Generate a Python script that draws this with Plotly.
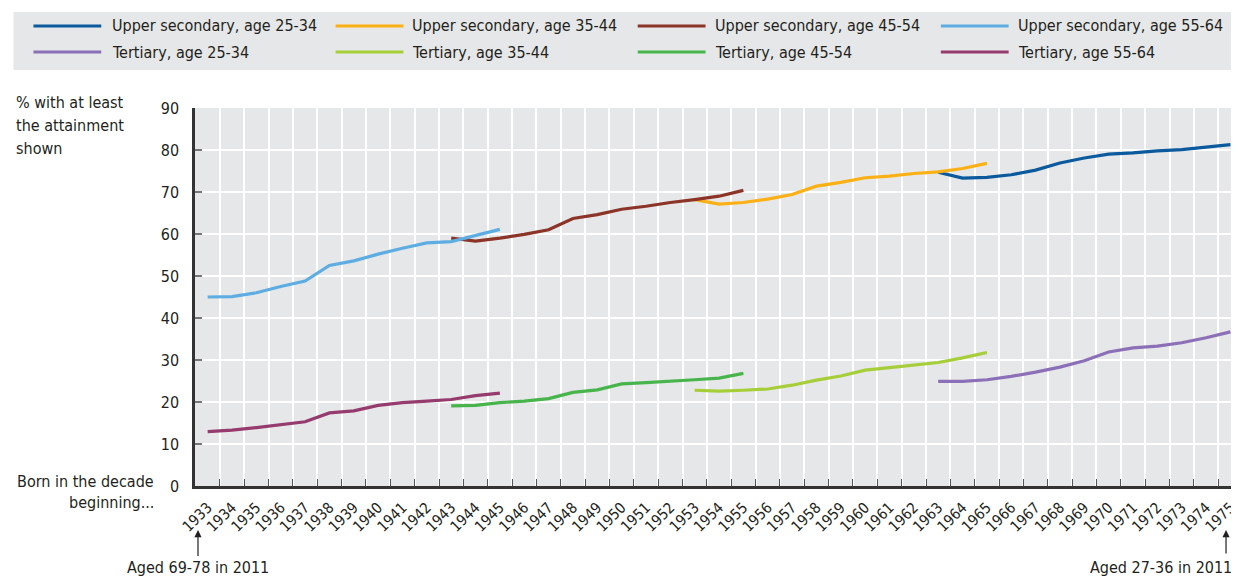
import plotly.graph_objects as go

# ---------------- data ----------------
years = [str(y) for y in range(1933, 1976)]

years_55_64 = [str(y) for y in range(1933, 1946)]
years_45_54 = [str(y) for y in range(1943, 1956)]
years_35_44 = [str(y) for y in range(1953, 1966)]
years_25_34 = [str(y) for y in range(1963, 1976)]

upper_sec_25_34 = [74.7, 73.3, 73.5, 74.1, 75.2, 76.9, 78.1, 79.0, 79.3, 79.8, 80.1, 80.7, 81.3]
upper_sec_35_44 = [68.2, 67.1, 67.5, 68.3, 69.4, 71.4, 72.3, 73.4, 73.8, 74.4, 74.8, 75.6, 76.8]
upper_sec_45_54 = [59.0, 58.3, 59.0, 59.9, 61.0, 63.7, 64.6, 65.9, 66.6, 67.5, 68.2, 69.0, 70.4]
upper_sec_55_64 = [45.0, 45.1, 46.0, 47.5, 48.8, 52.5, 53.6, 55.2, 56.6, 57.9, 58.2, 59.7, 61.1]
tertiary_25_34 = [24.9, 24.9, 25.3, 26.1, 27.1, 28.3, 29.8, 31.9, 32.9, 33.3, 34.1, 35.3, 36.7]
tertiary_35_44 = [22.8, 22.6, 22.8, 23.1, 24.0, 25.2, 26.2, 27.6, 28.2, 28.8, 29.4, 30.5, 31.8]
tertiary_45_54 = [19.1, 19.2, 19.85, 20.2, 20.8, 22.3, 22.9, 24.3, 24.6, 24.9, 25.3, 25.7, 26.8]
tertiary_55_64 = [12.95, 13.3, 13.9, 14.6, 15.3, 17.4, 17.9, 19.2, 19.85, 20.2, 20.6, 21.5, 22.1]

y_ticks = [0, 10, 20, 30, 40, 50, 60, 70, 80, 90]

series = [
    ("Upper secondary, age 25-34", years_25_34, upper_sec_25_34, "#0b5a9e"),
    ("Upper secondary, age 35-44", years_35_44, upper_sec_35_44, "#fbb116"),
    ("Upper secondary, age 45-54", years_45_54, upper_sec_45_54, "#8c3427"),
    ("Upper secondary, age 55-64", years_55_64, upper_sec_55_64, "#5dade2"),
    ("Tertiary, age 25-34", years_25_34, tertiary_25_34, "#8b70b8"),
    ("Tertiary, age 35-44", years_35_44, tertiary_35_44, "#a6ce39"),
    ("Tertiary, age 45-54", years_45_54, tertiary_45_54, "#47b54b"),
    ("Tertiary, age 55-64", years_55_64, tertiary_55_64, "#953b6e"),
]

y_title_lines = ["% with at least", "the attainment", "shown"]
x_title_lines = ["Born in the decade", "beginning..."]

# ---------------- layout geometry ----------------
# page body has an 8px margin; window-pixel positions are converted below
OFF = 8
W, H = 1239 - OFF, 578 - OFF
PLOT_L, PLOT_T, PLOT_B = 195, 108, 486          # window pixels
L = PLOT_L - OFF
T = PLOT_T - OFF
B = H - (PLOT_B - OFF)
R = 0
PW = W - L - R
PH = H - T - B

def px(x):
    return (x - PLOT_L) / PW

def py(y):
    return (PLOT_B - y) / PH

FONT = "DejaVu Sans Condensed, Liberation Sans, Arial, sans-serif"
TXT = "#231f20"
BG = "#e6e7e8"

fig = go.Figure()
for name, xs, ys, col in series:
    fig.add_trace(go.Scatter(x=xs, y=ys, mode="lines", name=name,
                             line=dict(color=col, width=3.2),
                             showlegend=False, hoverinfo="x+y+name"))

shapes = []
annotations = []

# legend box
shapes.append(dict(type="rect", xref="paper", yref="paper",
                   x0=px(13), x1=px(1250), y0=py(12), y1=py(70),
                   fillcolor=BG, line=dict(width=0), layer="below"))
line_x = [33, 336, 639, 943]
text_x = [110, 411, 714, 1018]
row_y = [26, 52]
for i, (name, xs, ys, col) in enumerate(series):
    r = i // 4
    c = i % 4
    shapes.append(dict(type="line", xref="paper", yref="paper",
                       x0=px(line_x[c]), x1=px(line_x[c] + 68),
                       y0=py(row_y[r]), y1=py(row_y[r]),
                       line=dict(color=col, width=3.2)))
    annotations.append(dict(text=name, xref="paper", yref="paper",
                            x=px(text_x[c]), y=py(row_y[r]),
                            xanchor="left", yanchor="middle", showarrow=False,
                            font=dict(size=16, color=TXT, family=FONT)))

# axis titles (one annotation per line for exact spacing)
for k, t in enumerate(y_title_lines):
    annotations.append(dict(text=t, xref="paper", yref="paper",
                            x=px(13), y=py(102 + 23 * k),
                            xanchor="left", yanchor="middle", showarrow=False,
                            font=dict(size=16, color=TXT, family=FONT)))
for k, t in enumerate(x_title_lines):
    annotations.append(dict(text=t, xref="paper", yref="paper",
                            x=px(156), y=py(481 + 22 * k),
                            xanchor="right", yanchor="middle", showarrow=False,
                            font=dict(size=16, color=TXT, family=FONT)))
# age markers with arrows
annotations.append(dict(text="Aged 69-78 in 2011", xref="paper", yref="paper",
                        x=px(198), y=py(530), ax=0, ay=37,
                        showarrow=True, arrowhead=2, arrowsize=1.2, arrowwidth=1.2,
                        arrowcolor=TXT, standoff=0,
                        font=dict(size=16, color=TXT, family=FONT)))
annotations.append(dict(text="", xref="paper", yref="paper",
                        x=px(1229), y=py(530), ax=0, ay=25,
                        showarrow=True, arrowhead=2, arrowsize=1.2, arrowwidth=1.2,
                        arrowcolor=TXT, standoff=0))
annotations.append(dict(text="Aged 27-36 in 2011", xref="paper", yref="paper",
                        x=px(1237), y=py(567), xanchor="right", yanchor="middle",
                        showarrow=False,
                        font=dict(size=16, color=TXT, family=FONT)))

fig.update_layout(
    width=W, height=H,
    margin=dict(l=L, r=R, t=T, b=B, pad=0),
    paper_bgcolor="white", plot_bgcolor=BG,
    font=dict(family=FONT, size=16, color=TXT),
    shapes=shapes, annotations=annotations,
    showlegend=False,
    xaxis=dict(type="category", categoryorder="array", categoryarray=years,
               range=[-0.52, 42.23], tickmode="array", tickvals=years, ticktext=years,
               tickson="boundaries", ticks="inside", ticklen=7, tickwidth=1.2,
               tickcolor="#555", tickangle=-45, tickfont=dict(size=15, color=TXT),
               showgrid=True, gridcolor="white", gridwidth=2,
               showline=True, linecolor="#333", linewidth=2.5,
               zeroline=False, fixedrange=True, ticklabelstandoff=4),
    yaxis=dict(range=[0, 90], tickmode="array", tickvals=y_ticks,
               ticks="inside", ticklen=7, tickwidth=1.5, tickcolor="#777",
               tickfont=dict(size=16, color=TXT),
               showgrid=True, gridcolor="white", gridwidth=2,
               showline=True, linecolor="#333", linewidth=2.5,
               zeroline=False, fixedrange=True, ticklabelstandoff=10),
)

fig.write_html("out.html")
